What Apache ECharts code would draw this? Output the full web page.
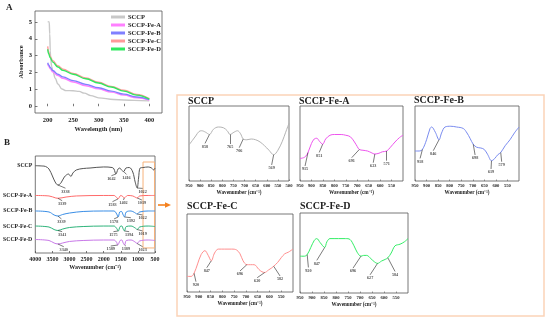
<!DOCTYPE html>
<html><head><meta charset="utf-8">
<script src="https://cdn.jsdelivr.net/npm/echarts@6/dist/echarts.min.js"></script>
<style>html,body{margin:0;padding:0;background:#fff}#c{width:550px;height:322px}</style>
</head><body><div id="c"></div>
<script>
// ---------- Panel A: UV absorbance ----------
const uvNames = ['SCCP','SCCP-Fe-A','SCCP-Fe-B','SCCP-Fe-C','SCCP-Fe-D'];
const uvTicks = [200,250,300,350,400];
const absTicks = [0,1,2,3,4,5];
const uvSCCP = [[200,5.02],[203,5.0],[204,4.3],[205,3.3],[206,2.7],[208,2.35],[210,2.1],[215,1.65],[220,1.32],[228,1.02],[236,0.93],[250,0.92],[262,0.88],[272,0.78],[285,0.63],[300,0.5],[330,0.4],[370,0.35],[400,0.32]];
const uvFeA = [[200,2.5],[202,2.37],[205,2.22],[210,2.04],[220,1.82],[230,1.66],[250,1.44],[275,1.22],[300,1.03],[325,0.84],[350,0.66],[375,0.5],[400,0.36]];
const uvFeB = [[200,2.58],[202,2.45],[205,2.3],[210,2.12],[220,1.9],[230,1.74],[250,1.52],[275,1.3],[300,1.1],[325,0.9],[350,0.72],[375,0.55],[400,0.4]];
const uvFeC = [[200,3.55],[202,3.2],[205,2.95],[210,2.7],[220,2.4],[230,2.2],[250,1.95],[275,1.68],[300,1.42],[325,1.18],[350,0.95],[375,0.7],[400,0.45]];
const uvFeD = [[200,3.38],[202,3.1],[205,2.88],[210,2.62],[220,2.33],[230,2.13],[250,1.9],[275,1.63],[300,1.38],[325,1.14],[350,0.9],[375,0.66],[400,0.42]];
const uvData = [uvSCCP, uvFeA, uvFeB, uvFeC, uvFeD];

// ---------- Panel B: FTIR (stacked, offset) ----------
const irNames = ['SCCP','SCCP-Fe-A','SCCP-Fe-B','SCCP-Fe-C','SCCP-Fe-D'];
const irSCCP = [[4000,90],[3800,89.7],[3700,89.2],[3600,86.6],[3500,79.4],[3420,73.2],[3338,70.1],[3250,72.2],[3150,78.4],[3030,81.4],[2960,78.9],[2900,82.5],[2800,85.6],[2600,87.1],[2400,87.6],[2000,88.7],[1750,88.1],[1700,86.6],[1642,81.4],[1580,86.6],[1530,87.6],[1480,85.6],[1416,84],[1350,87.6],[1250,88.1],[1150,83.5],[1080,73.2],[1022,67],[980,77.3],[935,87.6],[850,88.1],[700,88.7],[600,87.6],[540,85.6],[500,87.6]];
const irFeA = [[4000,59.3],[3600,58.8],[3400,56.7],[3339,56.4],[3100,57.7],[2800,58.8],[2000,59.3],[1700,59.3],[1620,57.2],[1583,55.7],[1500,59.3],[1440,58.2],[1402,56.7],[1300,59.3],[1150,58.8],[1060,57.2],[1019,56.7],[950,58.8],[700,59.3],[500,59.3]];
const irFeB = [[4000,43.3],[3600,42.3],[3450,39.2],[3339,38.1],[3200,39.7],[3000,41.2],[2600,42.8],[2000,43.3],[1700,43.3],[1620,40.2],[1578,37.1],[1530,42.3],[1480,42.8],[1430,39.2],[1392,37.1],[1340,42.3],[1200,43.3],[1100,41.8],[1022,40.2],[950,42.3],[700,43.3],[500,43.3]];
const irFeC = [[4000,27.8],[3600,26.8],[3450,24.2],[3341,23.2],[3200,24.7],[3000,26.3],[2600,27.3],[2000,27.8],[1700,27.8],[1620,25.3],[1575,22.7],[1520,27.3],[1470,27.8],[1430,24.7],[1394,22.7],[1340,27.3],[1200,27.8],[1080,25.8],[1019,24.2],[950,26.8],[700,27.8],[500,27.3]];
const irFeD = [[4000,13.9],[3600,12.9],[3450,10.3],[3340,9.3],[3200,10.3],[3000,11.9],[2600,12.9],[2000,13.4],[1700,13.4],[1620,10.8],[1589,8.2],[1520,12.9],[1470,13.4],[1430,10.3],[1389,8.2],[1340,12.9],[1200,13.4],[1080,11.3],[1023,9.8],[950,12.4],[700,13.4],[500,12.9]];
const irData = [irSCCP, irFeA, irFeB, irFeC, irFeD];
// peak: [peak wavenumber, label wavenumber, label level]
const irPeaks = [
  [[3338,3118,63.4],[1642,1774,76.3],[1416,1333,77.6],[1022,862,63.2]],
  [[3339,3215,50.5],[1583,1744,49.5],[1402,1421,51.2],[1019,882,51.2]],
  [[3339,3235,31.7],[1578,1697,31.7],[1392,1206,33],[1022,862,35.8]],
  [[3341,3215,18.6],[1575,1715,18.6],[1394,1256,18.6],[1019,862,19.3]],
  [[3340,3168,3.1],[1589,1794,3.8],[1389,1353,3.8],[1023,862,3.1]]
];
const irZoomRange = [850, 515];

// ---------- Zoomed panels 950-500 cm-1 ----------
const subNames = ['SCCP','SCCP-Fe-A','SCCP-Fe-B','SCCP-Fe-C','SCCP-Fe-D'];
const subSCCP = [[950,48],[935,54],[920,60],[905,66],[893,67],[875,65],[858,62],[840,69],[818,72],[795,71],[778,67],[765,62],[748,65],[732,67],[718,63],[706,56],[690,55],[670,56],[650,55],[630,52],[610,47],[590,41],[569,35],[550,41],[530,53],[515,65],[500,77]];
const subFeA = [[950,30],[935,31],[925,33],[915,38],[900,50],[888,56],[877,57],[865,53],[851,49],[838,56],[819,61],[800,62],[770,62],[750,61],[730,59],[712,52],[700,46],[691,42],[675,41],[655,40],[640,38],[623,36],[605,37],[590,39],[571,40],[555,45],[535,52],[515,58],[500,61]];
const subFeB = [[950,40],[932,40],[918,42],[900,55],[885,70],[878,72],[862,65],[846,55],[835,64],[820,72],[795,73],[770,72],[741,70],[725,64],[712,57],[698,49],[683,45],[665,44],[650,42],[635,35],[619,27],[605,30],[592,35],[579,38],[560,47],[539,55],[520,64],[500,72]];
const subFeC = [[950,20],[932,20],[920,24],[905,36],[890,48],[874,53],[860,47],[847,40],[833,50],[817,55],[790,55],[760,55],[740,54],[725,49],[712,40],[696,35],[680,35],[665,35],[645,29],[632,26],[620,25],[605,28],[590,31],[582,33],[565,38],[550,44],[535,49],[520,51],[500,55]];
const subFeD = [[950,46],[932,46],[920,48],[905,57],[890,66],[880,68],[866,63],[847,57],[838,64],[825,68],[790,68],[760,68],[742,67],[725,59],[712,51],[696,46],[685,47],[672,47],[655,43],[640,39],[627,37],[610,40],[595,42],[584,44],[570,50],[554,59],[533,61],[515,64],[500,68]];
const subData = [subSCCP, subFeA, subFeB, subFeC, subFeD];
const subPeaks = [
  [[858,878,45.7],[765,765,44.9],[706,724,40],[569,578,17]],
  [[915,928,15.6],[851,866,33.7],[691,724,26.7],[623,630,20],[571,571,22.7]],
  [[918,928,25.7],[846,871,36],[698,690,30.3],[619,621,11.6],[579,575,21.3]],
  [[920,912,9],[847,866,26.9],[696,725,22.7],[620,652,14.1],[582,555,16.3]],
  [[920,915,27.8],[847,880,36.7],[696,729,27],[627,658,18.6],[584,554,22.8]]
];

// ---------- styles / layout ----------
const SERIF = '"Liberation Serif","Times New Roman",serif';
const uvColors = ['#c8c8c8','#ff80ff','#8080ff','#ff9a9a','#30e860'];
const irColors = ['#555555','#ff6b6b','#3a8ee6','#2db37a','#c878e8'];
const subColors = ['#b4b4b4','#ee55ee','#7a8cf0','#ff8f8f','#33ee66'];
const subGrids = [
  {left:189, top:106, width:100, height:75},
  {left:300, top:106, width:103, height:75},
  {left:415, top:106, width:104, height:75},
  {left:187, top:214, width:106, height:78},
  {left:300, top:213, width:108, height:80}
];
const subTitlePos = [[188,96],[299,96],[414,95],[187,201],[300,201]];

function interp(curve, x){
  for (let i=0;i<curve.length-1;i++){
    const a=curve[i], b=curve[i+1];
    if ((x-a[0])*(x-b[0])<=0){
      const t = (b[0]===a[0])?0:(x-a[0])/(b[0]-a[0]);
      return a[1]+t*(b[1]-a[1]);
    }
  }
  return curve[curve.length-1][1];
}
const bold = (fs, extra) => Object.assign({fontSize:fs, fontFamily:SERIF, fontWeight:'bold', color:'#222'}, extra||{});
const plain = v => String(v);

const grid = [
  {left:35, top:11, width:127, height:102},
  {left:35, top:156, width:120, height:97}
].concat(subGrids).map(g => Object.assign({show:true, borderColor:'#555', borderWidth:0.8, backgroundColor:'transparent', containLabel:false}, g));

const xAxis = [], yAxis = [], series = [];

// Panel A axes
xAxis.push({gridIndex:0, type:'value', min:175, max:425, axisLine:{show:false}, splitLine:{show:false},
  axisTick:{inside:true, length:2.5, customValues:uvTicks, lineStyle:{color:'#555', width:0.8}},
  axisLabel:{customValues:uvTicks, margin:4, formatter:plain, ...bold(6.5)},
  name:'Wavelength (nm)', nameLocation:'middle', nameGap:13, nameTextStyle:bold(6.5)});
yAxis.push({gridIndex:0, type:'value', min:-0.4, max:5.65, axisLine:{show:false}, splitLine:{show:false},
  axisTick:{inside:true, length:2.5, customValues:absTicks, lineStyle:{color:'#555', width:0.8}},
  axisLabel:{customValues:absTicks, margin:3, formatter:plain, ...bold(6.5)},
  name:'Absorbance', nameLocation:'middle', nameGap:8, nameRotate:90, nameTextStyle:bold(6.5)});
uvData.forEach((d,i)=>series.push({type:'line', name:uvNames[i], xAxisIndex:0, yAxisIndex:0, data:d,
  smooth:0.4, smoothMonotone:'x', showSymbol:false, symbol:'none', lineStyle:{color:uvColors[i], width:1.4}, itemStyle:{color:uvColors[i]}, z:2+i}));

// Panel B axes
const irBase = irData.map(d=>d[0][1]);
xAxis.push({gridIndex:1, type:'value', min:500, max:4000, interval:500, inverse:true, axisLine:{show:false}, splitLine:{show:false},
  axisTick:{inside:true, length:2, lineStyle:{color:'#555', width:0.8}},
  axisLabel:{margin:3, formatter:plain, ...bold(6)},
  name:'Wavenumber (cm⁻¹)', nameLocation:'middle', nameGap:11, nameTextStyle:bold(6)});
yAxis.push({gridIndex:1, type:'value', min:0, max:100, axisLine:{show:false}, splitLine:{show:false}, axisTick:{show:false},
  axisLabel:{customValues:irBase, margin:3, formatter:v=>{const k=irBase.findIndex(b=>Math.abs(b-v)<1e-6);return k>=0?irNames[k]:'';}, ...bold(5.8)}});

function annotate(s, xi, yi, curve, peaks, gridH, fs){
  const upp = 100/gridH;
  const lines = [], texts = [];
  peaks.forEach(([pk,lx,lv])=>{
    lines.push([{coord:[pk, interp(curve,pk)]},{coord:[lx, lv+3.3*upp]}]);
    texts.push([lx, lv, String(pk)]);
  });
  s.markLine = {silent:true, animation:false, symbol:['none','arrow'], symbolSize:[0,3],
    lineStyle:{color:'#222', width:0.6, type:'solid'}, label:{show:false}, emphasis:{disabled:true}, data:lines};
  series.push({type:'scatter', name:'lbl'+xi+'_'+yi+'_'+series.length, xAxisIndex:xi, yAxisIndex:yi, symbolSize:1,
    itemStyle:{color:'rgba(0,0,0,0)'}, silent:true, z:6, data:texts,
    label:{show:true, position:'inside', formatter:p=>p.data[2], ...bold(fs)}});
}

irData.forEach((d,i)=>{
  const s = {type:'line', name:'ir '+irNames[i], xAxisIndex:1, yAxisIndex:1, data:d, smooth:0.35, showSymbol:false, symbol:'none',
    lineStyle:{color:irColors[i], width:1}, z:3};
  if (i===0) s.markArea = {silent:true, itemStyle:{color:'rgba(0,0,0,0)', borderColor:'#f7b27a', borderWidth:1},
    data:[[{coord:[irZoomRange[0], 5.2]},{coord:[irZoomRange[1], 93.8]}]]};
  series.push(s);
  annotate(s, 1, 1, d, irPeaks[i], 97, 4.2);
});

// Zoomed panels
subData.forEach((d,k)=>{
  const gi = 2+k;
  xAxis.push({gridIndex:gi, type:'value', min:500, max:950, interval:50, inverse:true, axisLine:{show:false}, splitLine:{show:false},
    axisTick:{inside:true, length:1.5, lineStyle:{color:'#555', width:0.6}},
    axisLabel:{margin:2.5, showMinLabel:k===0, formatter:plain, ...bold(4.6)},
    name:'Wavenumber (cm⁻¹)', nameLocation:'middle', nameGap:9, nameTextStyle:bold(5.2)});
  yAxis.push({gridIndex:gi, type:'value', min:0, max:100, show:true, axisLine:{show:false}, axisTick:{show:false}, axisLabel:{show:false}, splitLine:{show:false}});
  const s = {type:'line', name:'sub '+subNames[k], xAxisIndex:gi, yAxisIndex:gi, data:d, smooth:0.35, showSymbol:false, symbol:'none',
    lineStyle:{color:subColors[k], width:1}, z:3};
  series.push(s);
  annotate(s, gi, gi, d, subPeaks[k], subGrids[k].height, 4.2);
});

const titles = [
  {text:'A', left:6, top:3, padding:0, textStyle:bold(9)},
  {text:'B', left:4, top:138, padding:0, textStyle:bold(9)}
].concat(subNames.map((n,k)=>({text:n, left:subTitlePos[k][0], top:subTitlePos[k][1], padding:0, textStyle:bold(10)})));

const chart = echarts.init(document.getElementById('c'), null, {renderer:'canvas', width:550, height:322});
chart.setOption({
  animation:false,
  backgroundColor:'#fff',
  title:titles,
  legend:{data:uvNames, left:111, top:13, orient:'vertical', itemWidth:14, itemHeight:3, itemGap:0, icon:'rect', padding:0,
    selectedMode:false, textStyle:bold(6.5, {lineHeight:8, padding:[0,0,0,-2]})},
  grid, xAxis, yAxis, series,
  graphic:[
    {type:'rect', shape:{x:177, y:95, width:367, height:221}, style:{fill:'none', stroke:'#fbd3b8', lineWidth:1.5}, silent:true},
    {type:'line', shape:{x1:158, y1:205, x2:166, y2:205}, style:{stroke:'#f5821f', lineWidth:1.6}, silent:true},
    {type:'polygon', shape:{points:[[165,202.2],[171,205],[165,207.8]]}, style:{fill:'#f5821f'}, silent:true}
  ]
});
</script></body></html>
